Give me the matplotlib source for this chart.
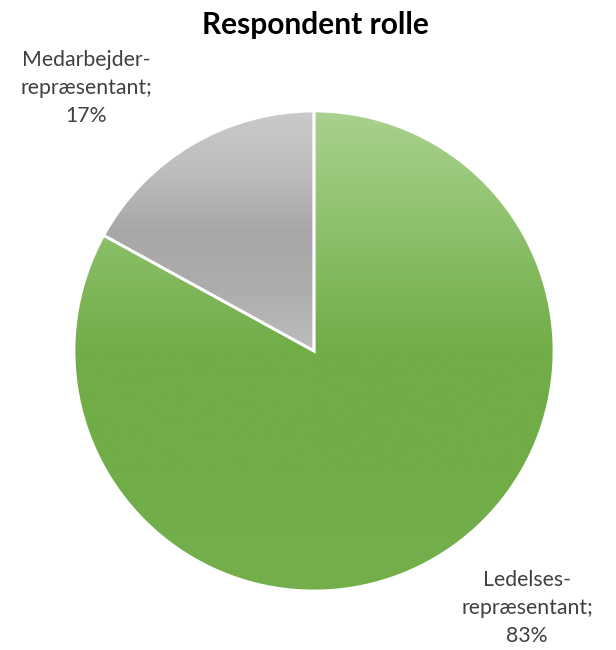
import numpy as np
import matplotlib
matplotlib.use('Agg')
import matplotlib.pyplot as plt
from matplotlib.colors import LinearSegmentedColormap

labels = ['Ledelses-\nrepræsentant;\n83%', 'Medarbejder-\nrepræsentant;\n17%']
values = [83, 17]
# gradient stops per slice (top -> bottom)
grads = [['#a9d18e', '#8cc06a', '#70ad47', '#70ad47', '#74af4c'],
         ['#cacaca', '#bdbdbd', '#a7a7a7', '#adadad', '#bdbdbd']]

plt.rcParams['font.family'] = ['Lato', 'DejaVu Sans']

fig = plt.figure(figsize=(6.16, 6.5), dpi=100)
ax = fig.add_axes([74/616, 59/650, 480/616, 480/650])

wedges, _ = ax.pie(values, startangle=90, counterclock=False, radius=1,
                   wedgeprops=dict(edgecolor='white', linewidth=2))
ax.set_xlim(-1, 1)
ax.set_ylim(-1, 1)
ax.set_aspect('equal')
ax.axis('off')

for w, g in zip(wedges, grads):
    w.set_facecolor('none')
    # bbox of the wedge in data coords
    verts = w.get_path().vertices
    ext = w.get_patch_transform().transform(verts)
    y0, y1 = ext[:, 1].min(), ext[:, 1].max()
    cmap = LinearSegmentedColormap.from_list('g', g)
    grad = np.linspace(0, 1, 256).reshape(-1, 1)
    im = ax.imshow(grad, cmap=cmap, extent=(-1, 1, y0, y1), origin='upper',
                   aspect='auto', zorder=0.5)
    im.set_clip_path(w)
    w.set_zorder(1)
ax.set_xlim(-1, 1)
ax.set_ylim(-1, 1)

fig.text(315/616, 1 - 25/650, 'Respondent rolle', ha='center', va='center',
         fontsize=21.5, fontweight='bold', color='black')
fig.text(86/616, 1 - 88/650, labels[1], ha='center', va='center',
         fontsize=15.3, color='#404040', linespacing=1.5)
fig.text(527/616, 1 - 608/650, labels[0], ha='center', va='center',
         fontsize=15.3, color='#404040', linespacing=1.5)

fig.savefig('out.png', dpi=100, facecolor='white')
